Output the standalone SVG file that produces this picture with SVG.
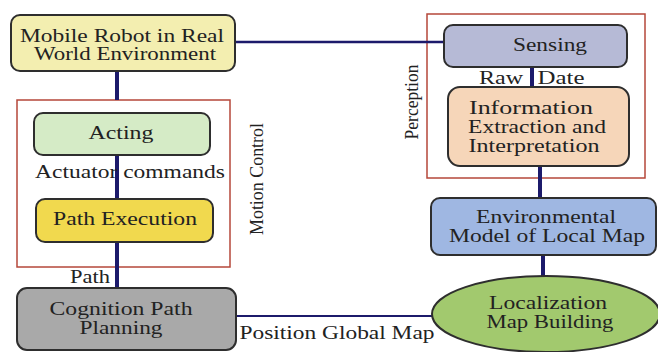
<svg xmlns="http://www.w3.org/2000/svg" width="658" height="352" viewBox="0 0 658 352">
  <style>
    .node { stroke: #2e2e2e; stroke-width: 2; }
    .frame { fill: none; stroke: #b5473a; stroke-width: 1.5; }
    .wire { stroke: #1c1a6b; fill: none; }
    .thick { stroke-width: 4; }
    .thin { stroke-width: 2.5; }
    .label { font-family: "Liberation Serif", LiberationSerif, "Times New Roman", Times, Tinos, "DejaVu Serif", serif; font-size: 18px; fill: #222; }
    .mid { text-anchor: middle; }
  </style>
  <rect width="658" height="352" fill="#ffffff"/>

  <!-- grouping frames -->
  <g id="motion-control">
    <rect class="frame" x="17" y="100" width="213" height="167"/>
    <text class="label mid" transform="translate(263,179) rotate(-90)" textLength="112" lengthAdjust="spacingAndGlyphs">Motion Control</text>
  </g>
  <g id="perception">
    <rect class="frame" x="427" y="14" width="218" height="164"/>
    <text class="label mid" transform="translate(418,102) rotate(-90)" textLength="75" lengthAdjust="spacingAndGlyphs">Perception</text>
  </g>

  <!-- connectors -->
  <g id="connectors">
    <line class="wire thin" x1="235" y1="42" x2="444" y2="42"/>
    <line class="wire thick" x1="117" y1="71" x2="117" y2="100"/>
    <line class="wire thick" x1="117" y1="155" x2="117" y2="199"/>
    <line class="wire thick" x1="117" y1="242" x2="117" y2="288"/>
    <line class="wire thick" x1="532" y1="67" x2="532" y2="87"/>
    <line class="wire thick" x1="540" y1="166" x2="540" y2="198"/>
    <line class="wire thick" x1="543" y1="255" x2="543" y2="276"/>
    <line class="wire" stroke-width="2" x1="236" y1="316" x2="433" y2="316"/>
    <text class="label mid" x="130" y="178" textLength="190" lengthAdjust="spacingAndGlyphs">Actuator commands</text>
    <text class="label mid" x="90" y="283" textLength="40" lengthAdjust="spacingAndGlyphs">Path</text>
    <text class="label mid" x="501" y="84" textLength="44" lengthAdjust="spacingAndGlyphs">Raw</text>
    <text class="label mid" x="561" y="84" textLength="47" lengthAdjust="spacingAndGlyphs">Date</text>
    <text class="label mid" x="337" y="339" textLength="195" lengthAdjust="spacingAndGlyphs">Position Global Map</text>
  </g>

  <g id="mobile-robot">
    <rect class="node" x="11" y="15" width="224" height="56" rx="9" fill="#f3eeb0"/>
    <text class="label mid" x="122" y="42" textLength="204" lengthAdjust="spacingAndGlyphs">Mobile Robot in Real</text>
    <text class="label mid" x="125" y="60" textLength="182" lengthAdjust="spacingAndGlyphs">World Environment</text>
  </g>

  <g id="acting">
    <rect class="node" x="34" y="113" width="176" height="42" rx="9" fill="#d5ebc6"/>
    <text class="label mid" x="121" y="139" textLength="65" lengthAdjust="spacingAndGlyphs">Acting</text>
  </g>

  <g id="path-execution">
    <rect class="node" x="36" y="199" width="177" height="43" rx="9" fill="#f1d94e"/>
    <text class="label mid" x="125" y="225" textLength="144" lengthAdjust="spacingAndGlyphs">Path Execution</text>
  </g>

  <g id="cognition">
    <rect class="node" x="17" y="288" width="219" height="62" rx="10" fill="#a9a9a9"/>
    <text class="label mid" x="121" y="315" textLength="143" lengthAdjust="spacingAndGlyphs">Cognition Path</text>
    <text class="label mid" x="121" y="334" textLength="83" lengthAdjust="spacingAndGlyphs">Planning</text>
  </g>

  <g id="sensing">
    <rect class="node" x="444" y="25" width="183" height="42" rx="9" fill="#b6bad6"/>
    <text class="label mid" x="550" y="51" textLength="74" lengthAdjust="spacingAndGlyphs">Sensing</text>
  </g>

  <g id="information">
    <rect class="node" x="448" y="87" width="181" height="79" rx="12" fill="#f6d6b9"/>
    <text class="label mid" x="531" y="114" textLength="124" lengthAdjust="spacingAndGlyphs">Information</text>
    <text class="label mid" x="537" y="133" textLength="138" lengthAdjust="spacingAndGlyphs">Extraction and</text>
    <text class="label mid" x="534" y="152" textLength="131" lengthAdjust="spacingAndGlyphs">Interpretation</text>
  </g>

  <g id="environmental-model">
    <rect class="node" x="431" y="198" width="225" height="57" rx="9" fill="#9fb7e2"/>
    <text class="label mid" x="546" y="223" textLength="140" lengthAdjust="spacingAndGlyphs">Environmental</text>
    <text class="label mid" x="547" y="242" textLength="196" lengthAdjust="spacingAndGlyphs">Model of Local Map</text>
  </g>

  <g id="localization">
    <ellipse class="node" cx="546" cy="314" rx="114" ry="38" fill="#a2c96e"/>
    <text class="label mid" x="548" y="309" textLength="118" lengthAdjust="spacingAndGlyphs">Localization</text>
    <text class="label mid" x="550" y="328" textLength="127" lengthAdjust="spacingAndGlyphs">Map Building</text>
  </g>
</svg>
